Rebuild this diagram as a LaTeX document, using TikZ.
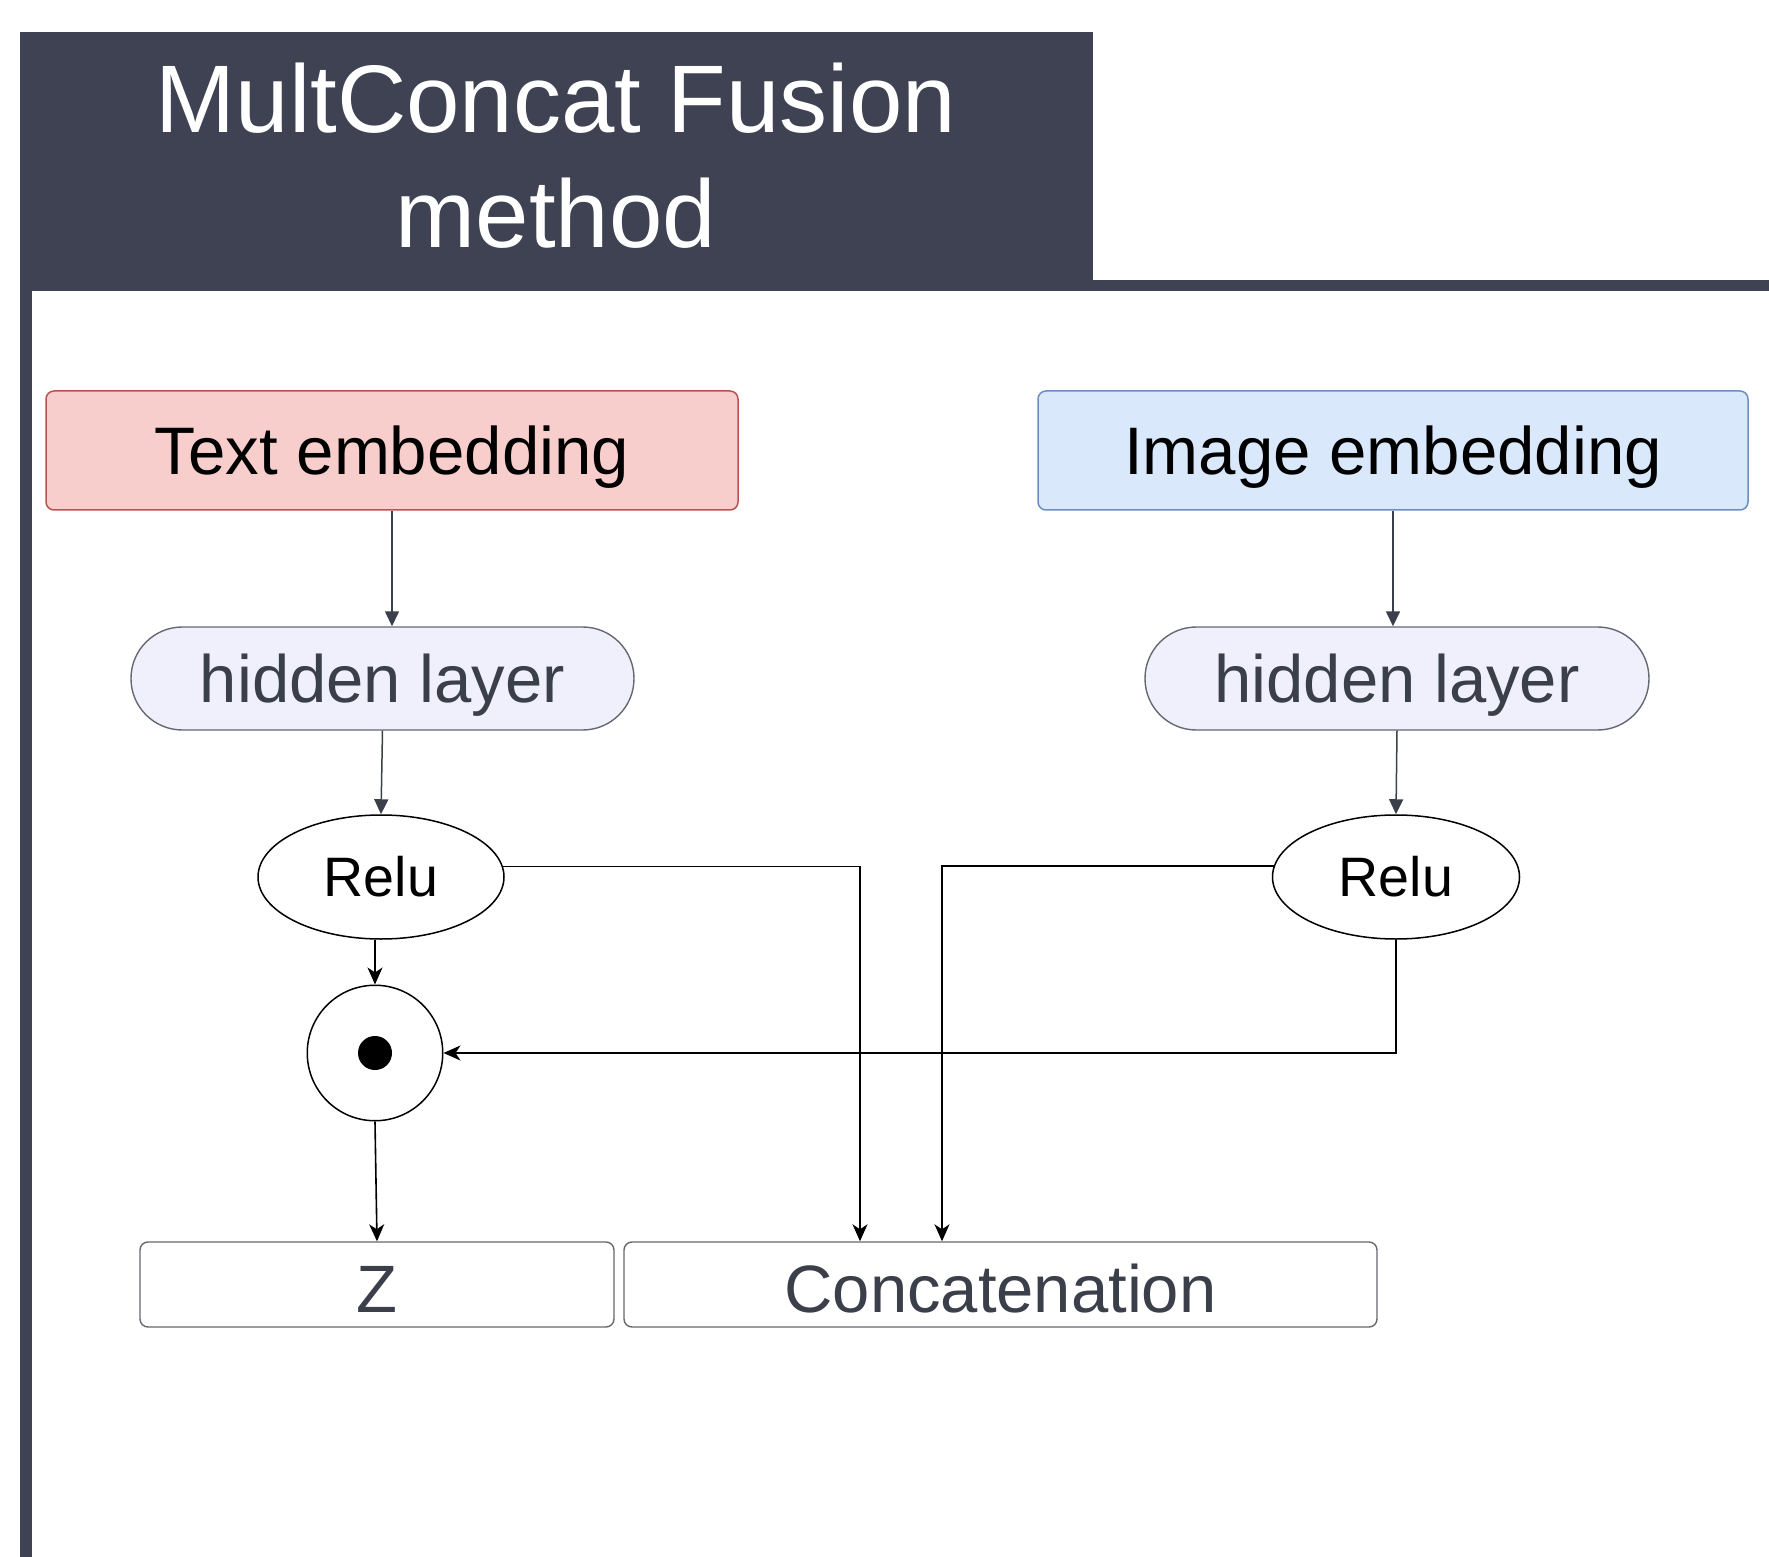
\documentclass[tikz,border=0pt]{standalone}
\usepackage{fontspec}
\setmainfont{Liberation Sans}
\usetikzlibrary{shapes.geometric,arrows.meta,calc}
\definecolor{hdr}{RGB}{62,66,82}
\definecolor{redfill}{RGB}{248,206,204}
\definecolor{redline}{RGB}{184,84,80}
\definecolor{bluefill}{RGB}{218,232,252}
\definecolor{blueline}{RGB}{108,142,191}
\definecolor{hidfill}{RGB}{239,240,252}
\definecolor{greyline}{RGB}{100,104,112}
\definecolor{slate}{RGB}{58,63,74}
\tikzset{
  embox/.style={rectangle, rounded corners=4pt, minimum height=59.5pt, inner sep=0pt,
    line width=0.75pt, font=\fontsize{33.6}{40}\selectfont, text height=24pt, text depth=0pt},
  hidbox/.style={rectangle, rounded corners=25.7pt, minimum height=51.5pt, inner sep=0pt,
    fill=hidfill, draw=greyline, line width=0.7pt, text=slate,
    font=\fontsize{33.5}{40}\selectfont, text height=23.8pt, text depth=0pt},
  relubox/.style={ellipse, minimum height=62pt, inner sep=0pt, draw=black, fill=white,
    line width=0.75pt, font=\fontsize{27.8}{32}\selectfont, text height=19.5pt, text depth=0pt},
  multbox/.style={circle, minimum size=67.75pt, inner sep=0pt, draw=black, fill=white, line width=0.75pt},
  outbox/.style={rectangle, rounded corners=4pt, minimum height=42.5pt, inner sep=0pt,
    draw=greyline, fill=white, line width=0.7pt, text=slate,
    font=\fontsize{33.5}{40}\selectfont, text height=28.2pt, text depth=0pt},
  darrow/.style={draw=slate, line width=0.75pt, -{Triangle[length=7.5pt,width=7pt]}},
  barrow/.style={draw=black, line width=0.8pt, -{Stealth[length=8.5pt,width=7.5pt,inset=2.5pt]}}
}
\begin{document}
\begin{tikzpicture}[x=0.5pt,y=-0.5pt]
\useasboundingbox (0,0) rectangle (1769,1557);
% header frame
\fill[hdr] (20,32) rectangle (1093,291);
\fill[hdr] (1093,280) rectangle (1769,291);
\fill[hdr] (20,291) rectangle (32,1557);
\node[text=white, align=center, inner sep=0pt, font=\fontsize{48}{57.5}\selectfont] (title) at (556,155.5) {MultConcat Fusion\\method};
% nodes
\node[embox, fill=redfill, draw=redline, minimum width=346pt] (te) at (392,450.5) {Text embedding};
\node[embox, fill=bluefill, draw=blueline, minimum width=355pt] (ie) at (1393,450.5) {Image embedding};
\node[hidbox, minimum width=251.5pt] (hl1) at (382.5,678.5) {hidden layer};
\node[hidbox, minimum width=252pt] (hl2) at (1397,678.5) {hidden layer};
\node[relubox, minimum width=123pt] (relu1) at (381,877) {Relu};
\node[relubox, minimum width=123.5pt] (relu2) at (1396,877) {Relu};
\node[multbox] (mult) at (375,1053) {};
\fill[black] (mult.center) circle[radius=17];
\node[outbox, minimum width=237pt] (z) at (377,1284.5) {Z};
\node[outbox, minimum width=376.5pt] (concat) at (1000.5,1284.5) {Concatenation};
% connectors
\draw[darrow] (te.south) -- (te.south |- hl1.north);
\draw[darrow] (ie.south) -- (ie.south |- hl2.north);
\draw[darrow] (hl1.south) -- (relu1.north);
\draw[darrow] (hl2.south) -- (relu2.north);
\draw[barrow] (relu1.south -| mult.north) -- (mult.north);
\draw[barrow] (relu1.5) -| ($(concat.north)+(-140.5,0)$);
\draw[barrow] (relu2.175) -| ($(concat.north)+(-58.5,0)$);
\draw[barrow] (relu2.south) |- (mult.east);
\draw[barrow] (mult.south) -- (z.north);
\end{tikzpicture}
\end{document}
